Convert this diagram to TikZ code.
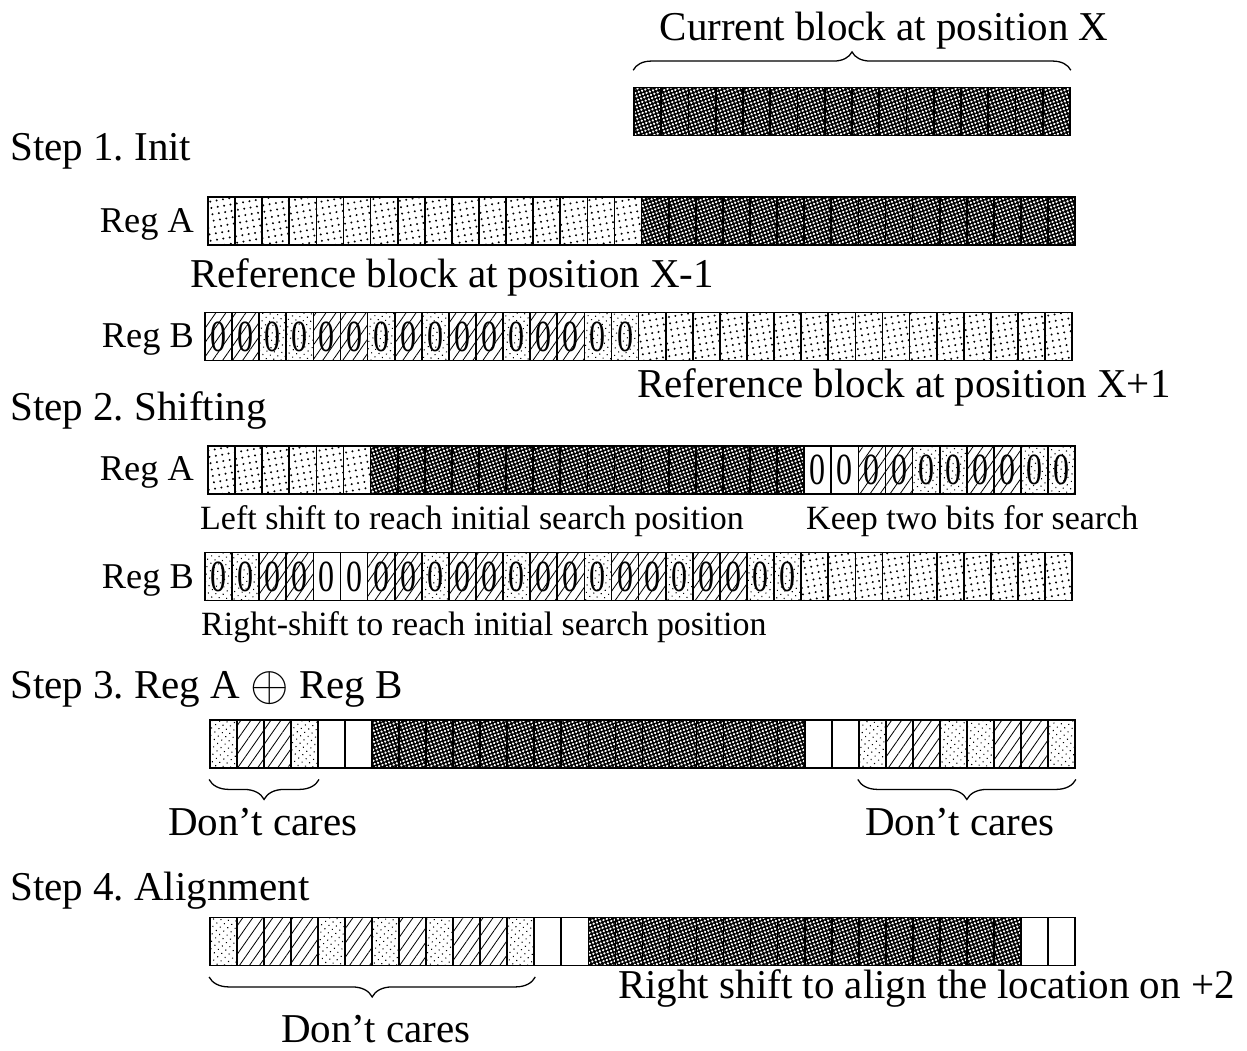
\documentclass[tikz,border=0pt]{standalone}
\usepackage{fontspec}
\setmainfont{Liberation Serif}
\frenchspacing
\usetikzlibrary{patterns.meta, decorations.pathreplacing, positioning}
\tikzset{
  cell/.style={draw, line width=1.5pt, minimum width=8.13mm, minimum height=14.4mm, inner sep=0pt},
  pW/.style={},
  pL/.style={pattern={Dots[distance=5.5pt, radius=0.95pt, angle=10]}},
  pS/.style={pattern={Dots[distance=4.5pt, radius=0.65pt, angle=40]}},
  pH/.style={pattern={Lines[angle=55, distance=7pt, line width=0.7pt]}},
  pD/.style={preaction={fill=black}, pattern={Dots[distance=3pt, radius=1.1pt, angle=20]}, pattern color=white},
  zlab/.style={font=\fontsize{38}{38}\selectfont, inner sep=0pt},
  zW/.style={pW, label={[zlab]center:\scalebox{0.72}[1]{0}}},
  zS/.style={pS, label={[zlab]center:\scalebox{0.72}[1]{0}}},
  zH/.style={pH, label={[zlab]center:\scalebox{0.72}[1]{0}}},
  tbig/.style={font=\fontsize{35}{40}\selectfont, inner sep=0pt},
  treg/.style={font=\fontsize{31}{36}\selectfont, inner sep=0pt},
  tsml/.style={font=\fontsize{29}{34}\selectfont, inner sep=0pt},
  brc/.style={decorate, decoration={brace, amplitude=5.5mm}, line width=1.1pt},
  brcdn/.style={decorate, decoration={brace, mirror, amplitude=6mm}, line width=1.1pt},
}
\begin{document}
\begin{tikzpicture}[x=0.3mm, y=-0.3mm]
  \useasboundingbox (0,0) rectangle (1247,1050);

  \node[tbig, anchor=base] (cbt) at (884,40) {Current block at position X};
  \foreach \k [count=\i] in {pD,pD,pD,pD,pD,pD,pD,pD,pD,pD,pD,pD,pD,pD,pD,pD}
    \node[cell,\k] (cb-\i) at ({634+27.25*(\i-0.5)},111.5) {};
  \draw[brc] ([yshift=14pt]cb-1.north west) -- ([yshift=14pt]cb-16.north east);

  % step 1
  \node[tbig, anchor=base west] (s1) at (10,160) {Step 1. Init};
  \node[treg, anchor=base east] (ra1) at (194,232) {Reg A};
  \foreach \k [count=\i] in {pL,pL,pL,pL,pL,pL,pL,pL,pL,pL,pL,pL,pL,pL,pL,pL,
                             pD,pD,pD,pD,pD,pD,pD,pD,pD,pD,pD,pD,pD,pD,pD,pD}
    \node[cell,\k] (a1-\i) at ({208+27.1*(\i-0.5)},221) {};
  \node[tbig, anchor=base west] (ra1t) at (190,287) {Reference block at position X-1};
  \node[treg, anchor=base east] (rb1) at (194,347) {Reg B};
  \foreach \k [count=\i] in {zH,zH,zS,zS,zH,zH,zS,zH,zS,zH,zH,zS,zH,zH,zS,zS,
                             pL,pL,pL,pL,pL,pL,pL,pL,pL,pL,pL,pL,pL,pL,pL,pL}
    \node[cell,\k] (b1-\i) at ({205+27.1*(\i-0.5)},336.5) {};
  \node[tbig, anchor=base west] (rb1t) at (637,397) {Reference block at position X+1};

  % step 2
  \node[tbig, anchor=base west] (s2) at (10,420) {Step 2. Shifting};
  \node[treg, anchor=base east] (ra2) at (194,480) {Reg A};
  \foreach \k [count=\i] in {pL,pL,pL,pL,pL,pL,
                             pD,pD,pD,pD,pD,pD,pD,pD,pD,pD,pD,pD,pD,pD,pD,pD,
                             zW,zW,zH,zH,zS,zS,zH,zH,zS,zS}
    \node[cell,\k] (a2-\i) at ({208+27.1*(\i-0.5)},470) {};
  \node[tsml, anchor=base west] (ra2t) at (200,529) {Left shift to reach initial search position};
  \node[tsml, anchor=base west] (kpt) at (806,529) {Keep two bits for search};
  \node[treg, anchor=base east] (rb2) at (194,588) {Reg B};
  \foreach \k [count=\i] in {zS,zS,zH,zH,zW,zW,zH,zH,zS,zH,zH,zS,zH,zH,zS,zH,zH,zS,zH,zH,zS,zS,
                             pL,pL,pL,pL,pL,pL,pL,pL,pL,pL}
    \node[cell,\k] (b2-\i) at ({205+27.1*(\i-0.5)},576.5) {};
  \node[tsml, anchor=base west] (rb2t) at (201,635) {Right-shift to reach initial search position};

  % step 3
  \node[tbig, anchor=base west] (s3) at (10,698) {Step 3. Reg A \raisebox{-0.05em}{\scalebox{1.7}{$\oplus$}} Reg B};
  \foreach \k [count=\i] in {pS,pH,pH,pS,pW,pW,
                             pD,pD,pD,pD,pD,pD,pD,pD,pD,pD,pD,pD,pD,pD,pD,pD,
                             pW,pW,pS,pH,pH,pS,pS,pH,pH,pS}
    \node[cell,\k] (x3-\i) at ({210+27.03*(\i-0.5)},744) {};
  \draw[brcdn] ([yshift=-9pt]x3-1.south west) -- ([yshift=-9pt]x3-4.south east);
  \draw[brcdn] ([yshift=-9pt]x3-25.south west) -- ([yshift=-9pt]x3-32.south east);
  \node[tbig, anchor=base] (dc1) at (263,835) {Don’t cares};
  \node[tbig, anchor=base] (dc2) at (960,835) {Don’t cares};

  % step 4
  \node[tbig, anchor=base west] (s4) at (10,900) {Step 4. Alignment};
  \foreach \k [count=\i] in {pS,pH,pH,pH,pS,pH,pS,pH,pS,pH,pH,pS,pW,pW,
                             pD,pD,pD,pD,pD,pD,pD,pD,pD,pD,pD,pD,pD,pD,pD,pD,
                             pW,pW}
    \node[cell,\k] (x4-\i) at ({210+27.03*(\i-0.5)},941.5) {};
  \draw[brcdn] ([yshift=-9pt]x4-1.south west) -- ([yshift=-9pt]x4-12.south east);
  \node[tbig, anchor=base west] (alt) at (618,998) {Right shift to align the location on +2};
  \node[tbig, anchor=base] (dc3) at (376,1042) {Don’t cares};
\end{tikzpicture}
\end{document}
